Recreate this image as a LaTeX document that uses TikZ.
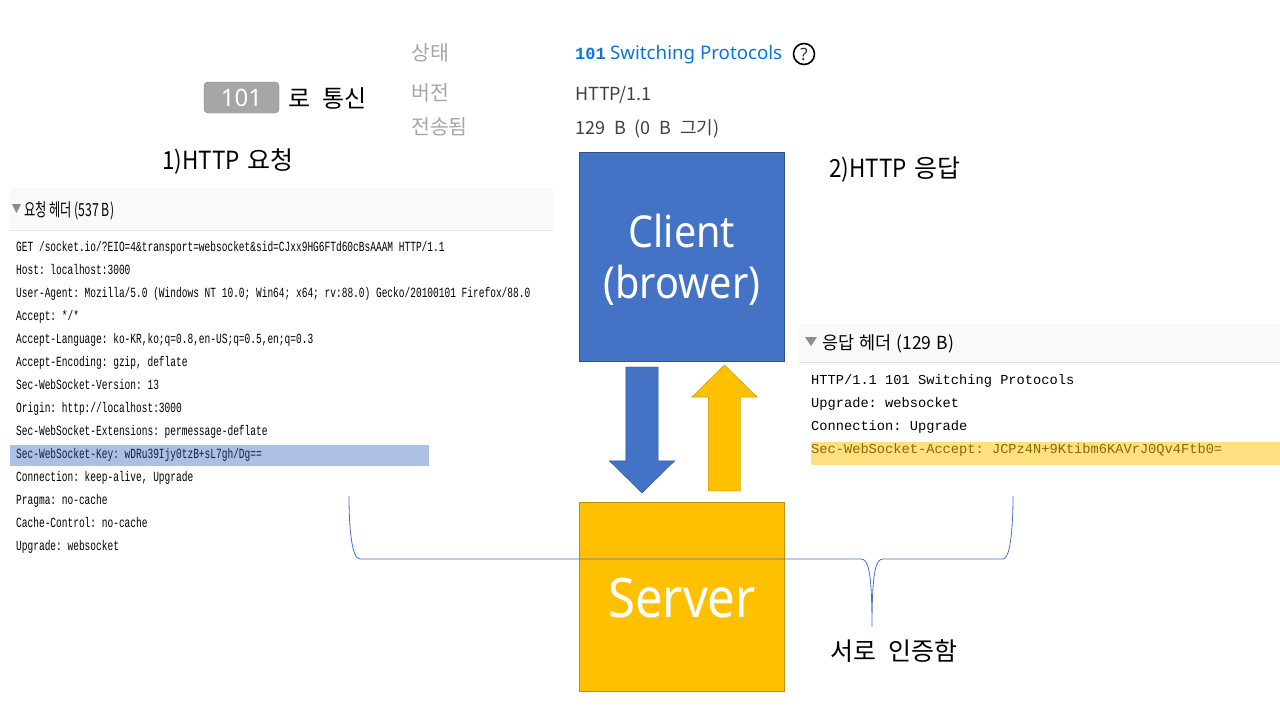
\documentclass[tikz,border=0pt]{standalone}
\usepackage{fontspec}
\usetikzlibrary{shapes.arrows}
\setmainfont{Noto Sans}
\newfontfamily\krfont[WordSpace=2.2]{Noto Sans CJK KR}
\newfontfamily\krlatin[FakeStretch=0.9]{Noto Sans CJK KR}
\newfontfamily\reqhfont[FakeStretch=0.68]{Noto Sans CJK KR}
\newfontfamily\reshfont[FakeStretch=0.97,WordSpace=1.3]{Noto Sans CJK KR}
\newfontfamily\boxfont[FakeStretch=0.9]{Noto Sans}
\newfontfamily\reqfont[FakeStretch=0.68]{Liberation Mono}
\newfontfamily\resfont{Liberation Mono}
\definecolor{boxblue}{HTML}{4472C4}
\definecolor{boxyellow}{HTML}{FFC000}
\definecolor{linkblue}{HTML}{0A74DA}
\tikzset{
    txt/.style={anchor=base west, inner sep=0pt},
    caption/.style={txt, font=\krfont\fontsize{25}{28}\selectfont},
    field/.style={txt, text=black!35, font=\krfont\fontsize{20.5}{24}\selectfont},
    value/.style={txt, text=black!75, font=\krfont\fontsize{18}{22}\selectfont},
    reqline/.style={txt, font=\reqfont\fontsize{14}{16}\selectfont},
    resline/.style={txt, font=\resfont\fontsize{13.7}{16}\selectfont},
    bigbox/.style={draw, minimum width=205pt, inner sep=0pt},
    boxtext/.style={anchor=base, inner sep=0pt, text=white, align=center, font=\boxfont\fontsize{44}{51}\selectfont},
    blockarrow/.style={single arrow, draw, minimum height=126pt, inner xsep=0pt, inner ysep=16pt,
        single arrow head extend=16.5pt, single arrow tip angle=91},
}
\begin{document}
\frenchspacing
\begin{tikzpicture}[x=1pt, y=-1pt]
    \useasboundingbox (0,0) rectangle (1280,720);
    % Status block
    \node[field] (status) at (411,60) {상태};
    \node[field] (version) at (411,100) {버전};
    \node[field] (sent) at (411,134) {전송됨};
    \node[txt, text=linkblue, font=\resfont\bfseries\fontsize{17}{20}\selectfont] (code) at (575,59) {101};
    \node[txt, text=linkblue, font=\fontsize{18.7}{22}\selectfont] (phrase) at (610,59) {Switching Protocols};
    \node[draw, circle, line width=1.6pt, minimum size=21pt, inner sep=0pt, text=black!80,
        font=\bfseries\fontsize{17}{17}\selectfont] (help) at (804,54) {?};
    \node[value] (vval) at (575,100) {HTTP/1.1};
    \node[value] (sval) at (575,134) {129 B (0 B 그기)};
    % Badge
    \node[draw=black!50, fill=black!35, rounded corners=4pt, minimum width=75pt, minimum height=31pt,
        inner sep=0pt, text=white, font=\fontsize{24}{26}\selectfont] (badge) at (241.5,97.5) {101};
    \node[caption, font=\krfont\fontsize{24}{28}\selectfont] (badgetxt) at (288,107) {로 통신};
    % Captions
    \node[caption] (reqcap) at (162,169) {{\krlatin 1)HTTP}\hspace{8pt}요청};
    \node[caption] (rescap) at (829,177) {{\krlatin 2)HTTP}\hspace{8pt}응답};
    % Request panel
    \fill[black!2.5] (10,188) rectangle (553,229);
    \draw[black!12] (10,230) -- (553,230);
    \fill[black!45] (12,204) -- (21,204) -- (16.5,213) -- cycle;
    \node[txt, font=\reqhfont\fontsize{18}{22}\selectfont] (reqhead) at (24,216) {요청 헤더 (537 B)};
    \fill[boxblue!45] (10,445) rectangle (429,466);
    \foreach \t [count=\i] in {
        {GET /socket.io/?EIO=4\&transport=websocket\&sid=CJxx9HG6FTd60cBsAAAM HTTP/1.1},
        {Host: localhost:3000},
        {User-Agent: Mozilla/5.0 (Windows NT 10.0; Win64; x64; rv:88.0) Gecko/20100101 Firefox/88.0},
        {Accept: */*},
        {Accept-Language: ko-KR,ko;q=0.8,en-US;q=0.5,en;q=0.3},
        {Accept-Encoding: gzip, deflate},
        {Sec-WebSocket-Version: 13},
        {Origin: http://localhost:3000},
        {Sec-WebSocket-Extensions: permessage-deflate},
        {\textcolor{black!70!boxblue}{Sec-WebSocket-Key: wDRu39Ijy0tzB+sL7gh/Dg==}},
        {Connection: keep-alive, Upgrade},
        {Pragma: no-cache},
        {Cache-Control: no-cache},
        {Upgrade: websocket}} {
        \pgfmathsetmacro{\yy}{228.5+23*\i}
        \node[reqline] (req\i) at (16,\yy) {\t};
    }
    % Response panel
    \fill[black!2.5] (799,324) rectangle (1280,361);
    \draw[black!12] (799,362) -- (1280,362);
    \fill[black!45] (805,337) -- (817,337) -- (811,346) -- cycle;
    \node[txt, font=\reshfont\fontsize{18}{22}\selectfont] (reshead) at (822,349) {응답 헤더 (129 B)};
    \fill[boxyellow!50] (811,442) rectangle (1280,465);
    \foreach \t [count=\i] in {
        {HTTP/1.1 101 Switching Protocols},
        {Upgrade: websocket},
        {Connection: Upgrade},
        {\textcolor{black!45!boxyellow}{Sec-WebSocket-Accept: JCPz4N+9Ktibm6KAVrJ0Qv4Ftb0=}}} {
        \pgfmathsetmacro{\yy}{361.5+23*\i}
        \node[resline] (res\i) at (811,\yy) {\t};
    }
    % Client and server
    \node[bigbox, fill=boxblue, draw=boxblue!70!black, minimum height=209pt] (client) at (682,256.5) {};
    \node[boxtext] (clienttxt) at (682,298) {Client\\(brower)};
    \node[bigbox, fill=boxyellow, draw=boxyellow!75!black, minimum height=189pt] (server) at (682,596.5) {};
    \node[boxtext, font=\boxfont\fontsize{54.6}{60}\selectfont] (servertxt) at (682,617) {Server};
    % Block arrows
    \node[blockarrow, rotate=270, fill=boxblue, draw=boxblue!70!black] (down) at (642,422) {};
    \node[blockarrow, rotate=90, fill=boxyellow, draw=boxyellow!75!black] (up) at (724.5,436) {};
    % Brace
    \coordinate (bl) at (349,496);
    \coordinate (br) at (1013,496);
    \coordinate (tip) at (872,627);
    \draw[boxblue, line width=0.8pt] (bl) .. controls (349,530) and (352,559) .. (360,559)
        -- (861,559) .. controls (868,559) and (872,570) .. (tip)
        .. controls (872,570) and (876,559) .. (883,559)
        -- (1003,559) .. controls (1010,559) and (1013,530) .. (br);
    \node[caption] (bracecap) at (830,660) {서로 인증함};
\end{tikzpicture}
\end{document}
